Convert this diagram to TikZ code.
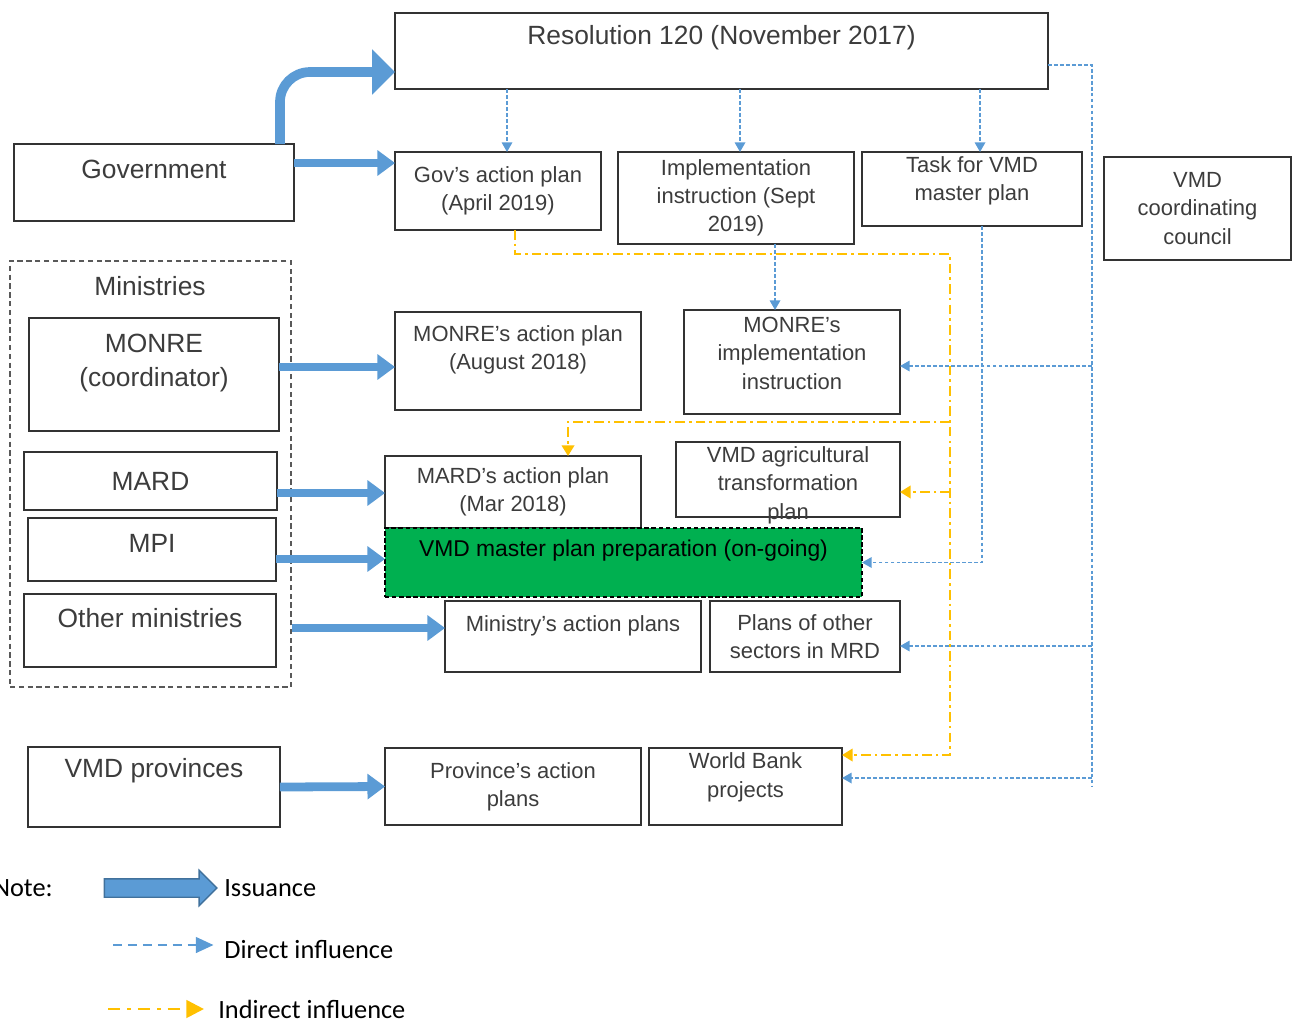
\documentclass[tikz,border=0pt]{standalone}
\usepackage{fontspec}
\setmainfont{Liberation Sans}
\newfontfamily\notefont{Carlito}
\usetikzlibrary{arrows.meta, shapes.arrows}
\definecolor{issueblue}{RGB}{91,155,213}
\definecolor{issueedge}{RGB}{65,113,156}
\definecolor{inflblue}{RGB}{91,155,213}
\definecolor{inflyellow}{RGB}{255,192,0}
\definecolor{planfill}{RGB}{0,176,80}
\definecolor{boxtext}{RGB}{60,60,60}
\tikzset{box/.style={draw=black!80, line width=0.8pt, align=center, text=boxtext, inner sep=1pt, outer sep=0pt},
         bigbox/.style={box, font=\fontsize{15}{19}\selectfont},
         planbox/.style={box, font=\fontsize{12.5}{16}\selectfont},
         issue/.style={issueblue, line width=5pt, -{Triangle[length=10pt,width=14pt]}},
         direct/.style={inflblue, line width=0.9pt, dash pattern=on 2.2pt off 1.2pt, -{Triangle[length=5.5pt,width=6pt]}},
         indirect/.style={inflyellow, line width=1.4pt, dash pattern=on 5.5pt off 2.3pt on 1.5pt off 2.3pt, -{Triangle[length=6pt,width=7pt]}},
         notetext/.style={font=\notefont\fontsize{15}{18}\selectfont, anchor=west, inner sep=0pt},
        }

\begin{document}
\begin{tikzpicture}[x=0.02cm, y=-0.02cm]
        \useasboundingbox (0,0) rectangle (1293,1024);

        \node[draw=black!65, line width=0.8pt, dash pattern=on 3pt off 2pt, minimum width=5.62cm, minimum height=8.52cm](mins)at(150.5,474){};
        \node[font=\fontsize{15}{19}\selectfont, text=boxtext](minlab)at(150,286){Ministries};

        \node[bigbox, minimum width=13.06cm, minimum height=1.52cm, text depth=18pt](res)at(721.5,51){Resolution 120 (November 2017)};
        \node[bigbox, minimum width=5.6cm, minimum height=1.54cm, text depth=15pt](gov)at(154,182.5){Government};
        \node[planbox, minimum width=4.12cm, minimum height=1.56cm](gap)at(498,191){Gov’s action plan\\(April 2019)};
        \node[planbox, minimum width=4.72cm, minimum height=1.84cm](impl)at(736,198){Implementation\\instruction (Sept\\2019)};
        \node[planbox, minimum width=4.4cm, minimum height=1.48cm, text depth=12pt](task)at(972,189){Task for VMD\\master plan};
        \node[planbox, minimum width=3.74cm, minimum height=2.06cm](council)at(1197.5,208.5){VMD\\coordinating\\council};

        \node[bigbox, minimum width=5cm, minimum height=2.26cm, text depth=16pt](monre)at(154,374.5){MONRE\\(coordinator)};
        \node[planbox, minimum width=4.92cm, minimum height=1.96cm, text depth=15pt](monreap)at(518,361){MONRE’s action plan\\(August 2018)};
        \node[planbox, minimum width=4.32cm, minimum height=2.08cm, text depth=10pt](monreimpl)at(792,362){MONRE’s\\implementation\\instruction};

        \node[bigbox, minimum width=5.06cm, minimum height=1.16cm](mard)at(150.5,481){MARD};
        \node[planbox, minimum width=5.12cm, minimum height=1.44cm](mardap)at(513,492){MARD’s action plan\\(Mar 2018)};
        \node[planbox, minimum width=4.48cm, minimum height=1.5cm, text height=45pt, text depth=0pt, inner ysep=-2pt](vmdagri)at(788,479.5){VMD agricultural\\transformation\\plan};

        \node[bigbox, minimum width=4.96cm, minimum height=1.26cm, text depth=7pt](mpi)at(152,549.5){MPI};
        \node[box, fill=planfill, draw=black, dash pattern=on 2.5pt off 1.5pt, text=black, font=\fontsize{13}{16}\selectfont, minimum width=9.54cm, minimum height=1.38cm, text depth=16pt](green)at(623.5,562.5){VMD master plan preparation (on-going)};

        \node[bigbox, minimum width=5.04cm, minimum height=1.46cm, text depth=14pt](other)at(150,630.5){Other ministries};
        \node[planbox, minimum width=5.12cm, minimum height=1.42cm, text depth=15pt](minap)at(573,636.5){Ministry’s action plans};
        \node[planbox, minimum width=3.8cm, minimum height=1.42cm](plansother)at(805,636.5){Plans of other\\sectors in MRD};

        \node[bigbox, minimum width=5.04cm, minimum height=1.6cm, text depth=22pt](vmdprov)at(154,787){VMD provinces};
        \node[planbox, minimum width=5.12cm, minimum height=1.54cm](provap)at(513,786.5){Province’s action\\plans};
        \node[planbox, minimum width=3.86cm, minimum height=1.54cm, text depth=13pt](wb)at(745.5,786.5){World Bank\\projects};

        \draw[issue, line width=5.5pt, rounded corners=0.6cm, -{Triangle[length=13pt,width=25pt]}]([xshift=-0.28cm]gov.north east)|-(res.west |- 0,72);
        \draw[issue](gov.east |- 0,163)--(gap.west |- 0,163);
        \draw[issue](monre.east |- 0,367)--(monreap.west |- 0,367);
        \draw[issue](mard.east |- 0,493)--(mardap.west |- 0,493);
        \draw[issue](mpi.east |- 0,559)--(green.west |- 0,559);
        \draw[issue](mins.east |- 0,628)--(minap.west |- 0,628);
        \draw[issue](vmdprov.east)--(provap.west);

        \draw[direct](res.south -| 507,0)--(gap.north -| 507,0);
        \draw[direct](res.south -| 740,0)--(impl.north -| 740,0);
        \draw[direct](res.south -| 980,0)--(task.north -| 980,0);
        \draw[direct](impl.south -| 775,0)--(monreimpl.north -| 775,0);
        \draw[direct](task.south -| 982,0)|-(green.east);

        \coordinate (rbus) at (1092,787);
        \coordinate (b1) at (1092,366);
        \coordinate (b2) at (1092,646);
        \coordinate (b3) at (1092,778);
        \draw[direct,-](res.east |- 0,65)-|(rbus);
        \draw[direct](b1)--(monreimpl.east |- b1);
        \draw[direct](b2)--(plansother.east |- b2);
        \draw[direct](b3)--(wb.east |- b3);

        \coordinate (y2) at (950,254);
        \coordinate (y3) at (950,755);
        \coordinate (y4) at (950,422);
        \coordinate (y5) at (950,492);
        \draw[indirect](gap.south -| 515,0)|-(y2)--(y3)--(wb.east |- y3);
        \draw[indirect](y4)-|(mardap.north -| 568,0);
        \draw[indirect](y5)--(vmdagri.east |- y5);

        \node[notetext, anchor=east](note)at(53,888){Note:};
        \node[single arrow, draw=issueedge, fill=issueblue, line width=0.8pt, inner xsep=0pt, inner ysep=0.17cm, minimum height=2.25cm, single arrow head extend=0.17cm, single arrow head indent=0pt](issarrow)at(156,888){};
        \node[notetext](isstxt)at(224,888){Issuance};
        \node[notetext](dirtxt)at(224,950){Direct influence};
        \node[notetext](indtxt)at(218,1009){Indirect influence};
        \coordinate (ldir) at (113,945);
        \coordinate (lind) at (108,1009);
        \draw[direct, line width=1pt, dash pattern=on 5pt off 3.5pt, -{Triangle[length=10pt,width=9pt]}, shorten >=6pt](ldir)--(dirtxt.west |- ldir);
        \draw[indirect, line width=1.6pt, dash pattern=on 7pt off 4pt on 2pt off 4pt, -{Triangle[length=10pt,width=10pt]}, shorten >=8pt](lind)--(indtxt.west |- lind);
    \end{tikzpicture}
\end{document}
